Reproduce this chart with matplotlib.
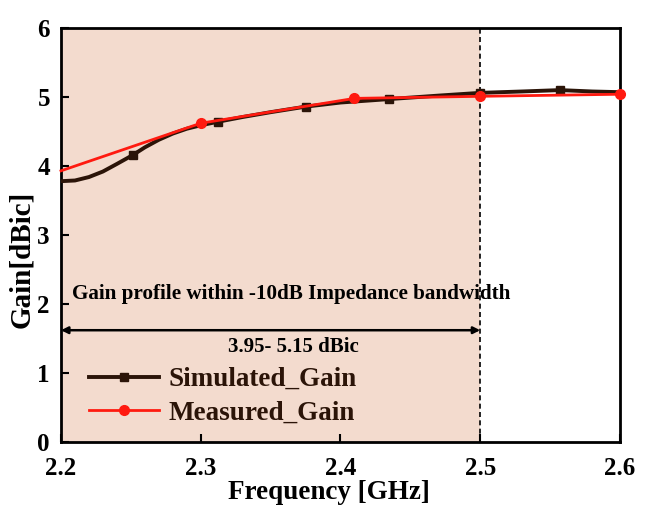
import matplotlib
matplotlib.use("Agg")
import matplotlib.pyplot as plt

# Simulated gain (smooth curve samples)
sim_freq = [2.20, 2.21, 2.22, 2.23, 2.24, 2.2515, 2.26, 2.27, 2.28, 2.29, 2.30, 2.312,
            2.33, 2.35, 2.375, 2.40, 2.435, 2.47, 2.50, 2.53, 2.557, 2.58, 2.60]
sim_gain = [3.78, 3.79, 3.84, 3.92, 4.03, 4.16, 4.27, 4.38, 4.47, 4.54, 4.59, 4.64,
            4.71, 4.78, 4.86, 4.92, 4.97, 5.02, 5.06, 5.08, 5.10, 5.08, 5.07]
sim_marker_idx = [5, 11, 14, 16, 18, 20]

# Measured gain
meas_freq = [2.20, 2.30, 2.41, 2.50, 2.60]
meas_gain = [3.93, 4.62, 4.98, 5.01, 5.04]
meas_marker_idx = [1, 2, 3, 4]

xticks = [2.2, 2.3, 2.4, 2.5, 2.6]
yticks = [0, 1, 2, 3, 4, 5, 6]

plt.rcParams['font.family'] = ['Liberation Serif', 'DejaVu Serif']
plt.rcParams['font.weight'] = 'bold'

fig = plt.figure(figsize=(6.51, 5.08), dpi=100)
ax = fig.add_axes([61/651, 1-442/508, (620-61)/651, (442-28)/508])

ax.axvspan(2.2, 2.5, color='#F3DBCE', zorder=0, lw=0)
ax.axvline(2.5, color='black', ls=(0, (3, 2)), lw=1.2, zorder=1)

ax.plot(sim_freq, sim_gain, color='#2B1408', lw=2.8, marker='s', markersize=6,
        markevery=sim_marker_idx, label='Simulated_Gain', zorder=3)
ax.plot(meas_freq, meas_gain, color='#FF1A10', lw=2.0, marker='o', markersize=7,
        markevery=meas_marker_idx, label='Measured_Gain', zorder=4, clip_on=False)

ax.set_xlim(2.2, 2.6)
ax.set_ylim(0, 6)
ax.set_xticks(xticks)
ax.set_yticks(yticks)
ax.set_xticklabels([f'{t:.1f}' for t in xticks], fontsize=18, fontweight='bold')
ax.set_yticklabels([str(t) for t in yticks], fontsize=18, fontweight='bold')
ax.tick_params(direction='in', length=6, width=1.5, pad=8)
ax.tick_params(axis='x', pad=11)
for s in ax.spines.values():
    s.set_linewidth(2.0)

ax.set_xlabel('Frequency [GHz]', fontsize=19.5, fontweight='bold')
ax.xaxis.set_label_coords((329-61)/559, (442-480)/414)
ax.set_ylabel('Gain[dBic]', fontsize=21, fontweight='bold')
ax.yaxis.set_label_coords((35-61)/559, (442-259)/414)

ax.text(2.208, 2.15, 'Gain profile within -10dB Impedance bandwidth', fontsize=15.2,
        fontweight='bold', ha='left', va='center', color='black', zorder=5)
ax.annotate('', xy=(2.2, 1.62), xytext=(2.5, 1.62),
            arrowprops=dict(arrowstyle='<|-|>', color='black', lw=1.8,
                            mutation_scale=10, shrinkA=0, shrinkB=0))
ax.text(2.366, 1.38, '3.95- 5.15 dBic', fontsize=15, fontweight='bold',
        ha='center', va='center', color='black')

leg = ax.legend(loc='upper left', bbox_to_anchor=((89-61)/559, (442-367)/414),
                frameon=False, borderaxespad=0, borderpad=0,
                prop={'size': 19.5, 'weight': 'bold'}, handlelength=2.6,
                handletextpad=0.35, labelspacing=0.32)
for t in leg.get_texts():
    t.set_color('#2B1408')

fig.savefig('out.png', dpi=100)
